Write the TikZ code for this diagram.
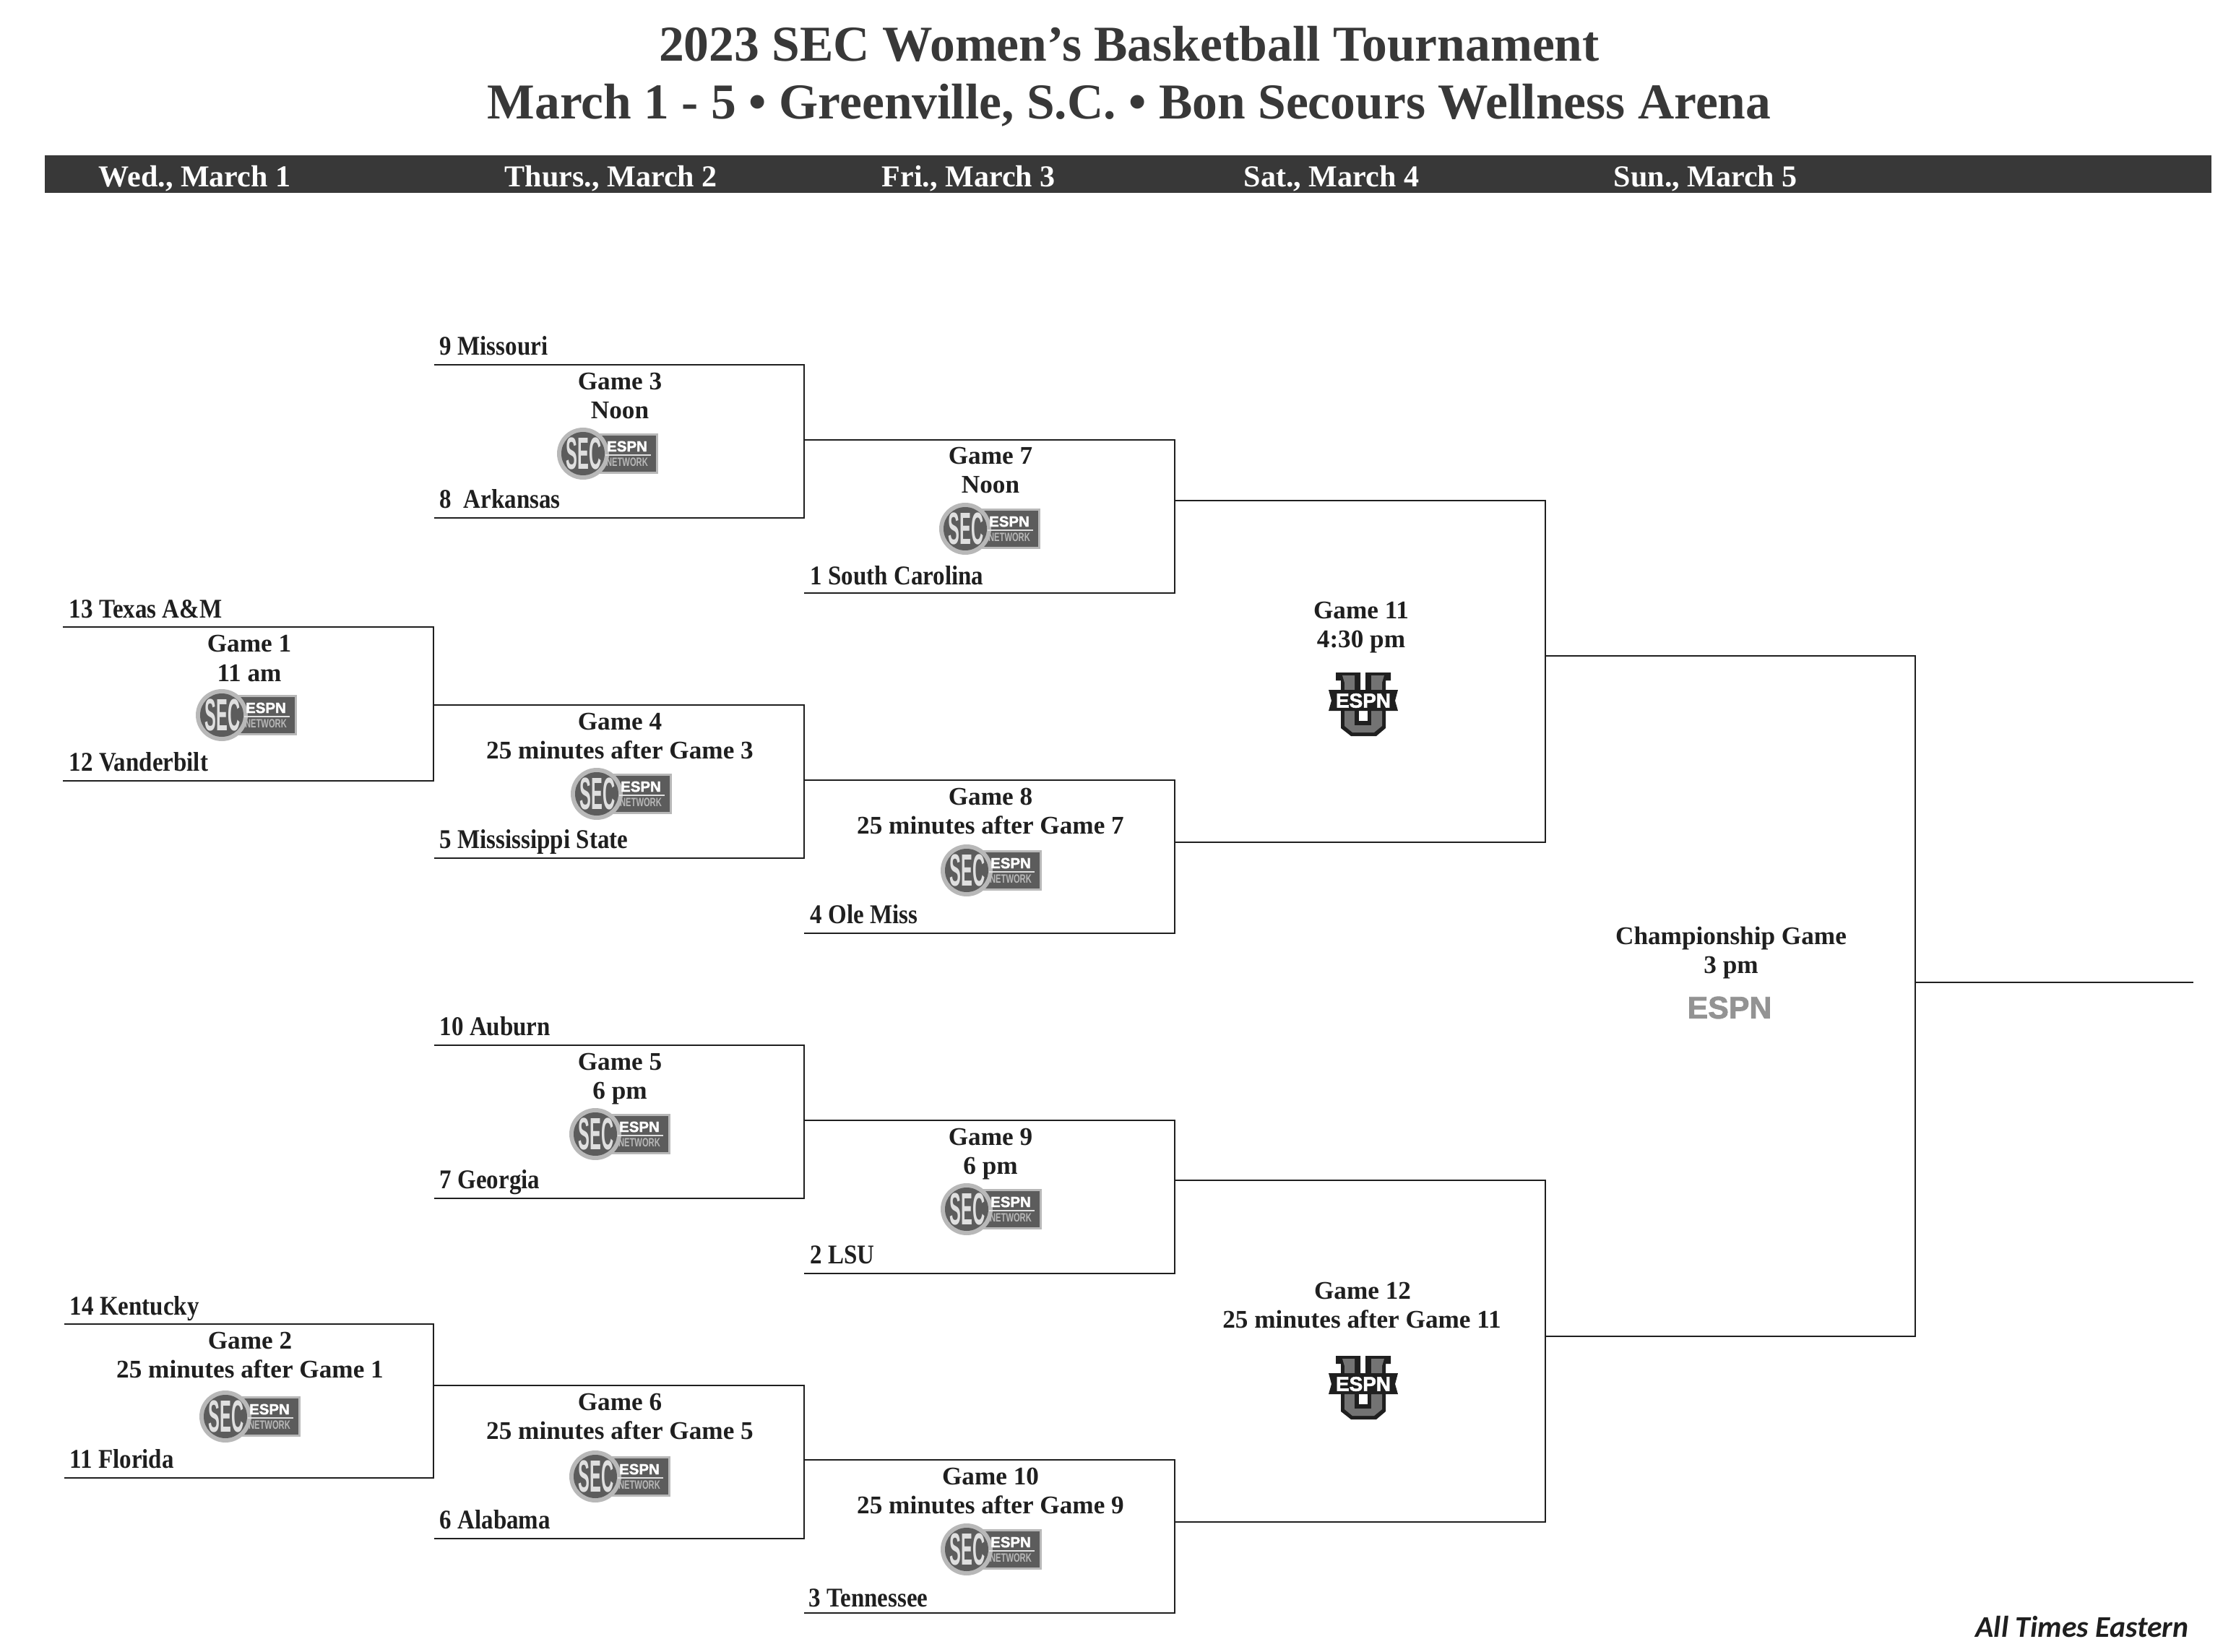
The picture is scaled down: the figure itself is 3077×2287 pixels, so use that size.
\documentclass[tikz,border=0pt]{standalone}
\usepackage{fontspec}
\setmainfont{Liberation Serif}
\newfontfamily\teamfont[FakeStretch=.88]{Liberation Serif}
\newfontfamily\netfont[FakeStretch=.67]{Liberation Sans}
\newfontfamily\secfont[FakeStretch=.38]{Liberation Sans}
\newfontfamily\espnfont[BoldFeatures={FakeBold=2}]{Liberation Sans}
\newfontfamily\notefont{Carlito}
\definecolor{bardark}{gray}{.22}
\definecolor{inkdark}{gray}{.12}
\definecolor{logodark}{gray}{.36}
\definecolor{logolight}{gray}{.72}
\tikzset{
  titlelabel/.style={inner sep=0pt,anchor=base,text=bardark,font=\fontsize{16.7}{20}\selectfont\bfseries},
  daylabel/.style={inner sep=0pt,anchor=base west,text=white,font=\fontsize{10.1}{12}\selectfont\bfseries},
  teamlabel/.style={inner sep=0pt,anchor=base west,text=inkdark,font=\teamfont\fontsize{9}{11}\selectfont\bfseries},
  gamelabel/.style={inner sep=0pt,anchor=base,text=inkdark,font=\fontsize{8.45}{10}\selectfont\bfseries},
  bline/.style={draw=inkdark,line width=.6pt},
  secnet/.pic={
    \fill[logolight] (-34,-28) rectangle (70,28);
    \fill[logodark] (-20,-25) rectangle (67,25);
    \fill[logolight] (-34,0) circle (36);
    \fill[logodark] (-34,0) circle (30);
    \node[inner sep=0pt,text=gray!25] (-sec) at (-33,0) {\secfont\fontsize{15}{15}\selectfont\bfseries SEC};
    \node[inner sep=0pt,text=white] (-espn) at (27,-10) {\espnfont\fontsize{4.9}{5}\selectfont\bfseries ESPN};
    \draw[gray!25,line width=.3pt] (-3,2) -- (60,2);
    \node[inner sep=0pt,text=logolight] (-net) at (27,12) {\netfont\fontsize{4}{4}\selectfont\bfseries NETWORK};
  },
  espnu/.pic={
    \fill[inkdark] (-38,-44) -- (-4,-44) -- (-4,-20) -- (3,-20) -- (3,-44) -- (38,-44) -- (38,-33) -- (31,-33) -- (31,33) -- (18,44) -- (-17,44) -- (-31,33) -- (-31,-33) -- (-38,-33) -- cycle;
    \fill[gray!90!black] (-29,-40) -- (-12,-40) -- (-12,29) -- (11,29) -- (11,-40) -- (29,-40) -- (26,-30) -- (26,30) -- (15,39) -- (-15,39) -- (-26,30) -- (-26,-30) -- cycle;
    \fill[inkdark] (-12,9) rectangle (11,29);
    \fill[white] (-6,9) rectangle (6,23);
    \fill[inkdark] (-48,-20) -- (48,-20) -- (44,-5) -- (48,9) -- (-48,9) -- (-44,-5) -- cycle;
    \node[inner sep=0pt,text=white] (-espn) at (0,-5) {\espnfont\fontsize{6.7}{7}\selectfont\bfseries ESPN};
  },
  espnmark/.pic={
    \node[inner sep=0pt,text=gray!85] (-espn) at (0,0) {\espnfont\fontsize{10.3}{11}\selectfont\bfseries ESPN};
  },
}
\begin{document}
\begin{tikzpicture}[x=.24pt,y=.24pt,yscale=-1,every pic/.style={yscale=-1}]
\useasboundingbox (0,0) rectangle (3077,2287);

% Title
\node[titlelabel] (title1) at (1563,85) {2023 SEC Women’s Basketball Tournament};
\node[titlelabel] (title2) at (1563,165) {March 1 - 5 • Greenville, S.C. • Bon Secours Wellness Arena};

% Day bar
\fill[bardark] (62,215) rectangle (3061,267);
\node[daylabel] (wed) at (136,259) {Wed., March 1};
\node[daylabel] (thu) at (698,259) {Thurs., March 2};
\node[daylabel] (fri) at (1220,259) {Fri., March 3};
\node[daylabel] (sat) at (1721,259) {Sat., March 4};
\node[daylabel] (sun) at (2233,259) {Sun., March 5};

% Corners of the brackets
\coordinate (g1a) at (87,868);    \coordinate (g1b) at (600,1081);   \coordinate (g1c) at (87,1081);
\coordinate (g2a) at (89,1833);   \coordinate (g2b) at (600,2046);   \coordinate (g2c) at (89,2046);
\coordinate (g3a) at (601,505);   \coordinate (g3b) at (1113,717);   \coordinate (g3c) at (601,717);
\coordinate (g4a) at (601,976);   \coordinate (g4b) at (1113,1188);  \coordinate (g4c) at (601,1188);
\coordinate (g5a) at (601,1447);  \coordinate (g5b) at (1113,1659);  \coordinate (g5c) at (601,1659);
\coordinate (g6a) at (601,1918);  \coordinate (g6b) at (1113,2130);  \coordinate (g6c) at (601,2130);
\coordinate (g7a) at (1113,609);  \coordinate (g7b) at (1626,821);   \coordinate (g7c) at (1113,821);
\coordinate (g8a) at (1113,1080); \coordinate (g8b) at (1626,1292);  \coordinate (g8c) at (1113,1292);
\coordinate (g9a) at (1113,1551); \coordinate (g9b) at (1626,1763);  \coordinate (g9c) at (1113,1763);
\coordinate (g10a) at (1113,2021);\coordinate (g10b) at (1626,2233); \coordinate (g10c) at (1113,2233);
\coordinate (g11a) at (1626,693); \coordinate (g11b) at (2139,1166); \coordinate (g11c) at (1626,1166);
\coordinate (g12a) at (1626,1634);\coordinate (g12b) at (2139,2107); \coordinate (g12c) at (1626,2107);
\coordinate (champa) at (2139,908);\coordinate (champb) at (2651,1850);\coordinate (champc) at (2139,1850);
\coordinate (winl) at (2651,1360);\coordinate (winr) at (3036,1360);

% Brackets
\draw[bline] (g1a) -| (g1b) -- (g1c);
\draw[bline] (g2a) -| (g2b) -- (g2c);
\draw[bline] (g3a) -| (g3b) -- (g3c);
\draw[bline] (g4a) -| (g4b) -- (g4c);
\draw[bline] (g5a) -| (g5b) -- (g5c);
\draw[bline] (g6a) -| (g6b) -- (g6c);
\draw[bline] (g7a) -| (g7b) -- (g7c);
\draw[bline] (g8a) -| (g8b) -- (g8c);
\draw[bline] (g9a) -| (g9b) -- (g9c);
\draw[bline] (g10a) -| (g10b) -- (g10c);
\draw[bline] (g11a) -| (g11b) -- (g11c);
\draw[bline] (g12a) -| (g12b) -- (g12c);
\draw[bline] (champa) -| (champb) -- (champc);
\draw[bline] (winl) -- (winr);

% Teams
\node[teamlabel] (t13) at (95,855) {13 Texas A\&M};
\node[teamlabel] (t12) at (95,1067) {12 Vanderbilt};
\node[teamlabel] (t14) at (96,1820) {14 Kentucky};
\node[teamlabel] (t11) at (96,2032) {11 Florida};
\node[teamlabel] (t9) at (608,492) {9 Missouri};
\node[teamlabel] (t8) at (608,703) {8\ \ Arkansas};
\node[teamlabel] (t5) at (608,1174) {5 Mississippi State};
\node[teamlabel] (t10) at (608,1433) {10 Auburn};
\node[teamlabel] (t7) at (608,1645) {7 Georgia};
\node[teamlabel] (t6) at (608,2116) {6 Alabama};
\node[teamlabel] (t1) at (1121,809) {1 South Carolina};
\node[teamlabel] (t4) at (1121,1278) {4 Ole Miss};
\node[teamlabel] (t2) at (1121,1749) {2 LSU};
\node[teamlabel] (t3) at (1119,2224) {3 Tennessee};

% Game 1 to Game 6
\node[gamelabel] (g1n) at (345,902) {Game 1};
\node[gamelabel] (g1t) at (345,943) {11 am};
\pic (g1l) at (341,990) {secnet};
\node[gamelabel] (g2n) at (346,1867) {Game 2};
\node[gamelabel] (g2t) at (346,1907) {25 minutes after Game 1};
\pic (g2l) at (346,1961) {secnet};
\node[gamelabel] (g3n) at (858,540) {Game 3};
\node[gamelabel] (g3t) at (858,580) {Noon};
\pic (g3l) at (841,628) {secnet};
\node[gamelabel] (g4n) at (858,1010) {Game 4};
\node[gamelabel] (g4t) at (858,1050) {25 minutes after Game 3};
\pic (g4l) at (860,1099) {secnet};
\node[gamelabel] (g5n) at (858,1481) {Game 5};
\node[gamelabel] (g5t) at (858,1521) {6 pm};
\pic (g5l) at (858,1570) {secnet};
\node[gamelabel] (g6n) at (858,1952) {Game 6};
\node[gamelabel] (g6t) at (858,1992) {25 minutes after Game 5};
\pic (g6l) at (858,2044) {secnet};

% Game 7 to Game 10
\node[gamelabel] (g7n) at (1371,643) {Game 7};
\node[gamelabel] (g7t) at (1371,683) {Noon};
\pic (g7l) at (1370,732) {secnet};
\node[gamelabel] (g8n) at (1371,1114) {Game 8};
\node[gamelabel] (g8t) at (1371,1154) {25 minutes after Game 7};
\pic (g8l) at (1372,1205) {secnet};
\node[gamelabel] (g9n) at (1371,1585) {Game 9};
\node[gamelabel] (g9t) at (1371,1625) {6 pm};
\pic (g9l) at (1372,1674) {secnet};
\node[gamelabel] (g10n) at (1371,2055) {Game 10};
\node[gamelabel] (g10t) at (1371,2095) {25 minutes after Game 9};
\pic (g10l) at (1372,2145) {secnet};

% Last three games
\node[gamelabel] (g11n) at (1884,856) {Game 11};
\node[gamelabel] (g11t) at (1884,897) {4:30 pm};
\pic (g11l) at (1887,975) {espnu};
\node[gamelabel] (g12n) at (1886,1798) {Game 12};
\node[gamelabel] (g12t) at (1885,1838) {25 minutes after Game 11};
\pic (g12l) at (1887,1921) {espnu};
\node[gamelabel] (champn) at (2396,1307) {Championship Game};
\node[gamelabel] (champt) at (2396,1347) {3 pm};
\pic (champl) at (2394,1395) {espnmark};

% Note
\node[inner sep=0pt,anchor=base east,text=inkdark,font=\notefont\fontsize{10}{12}\selectfont\bfseries\itshape] (note) at (3030,2266) {All Times Eastern};

\end{tikzpicture}
\end{document}
